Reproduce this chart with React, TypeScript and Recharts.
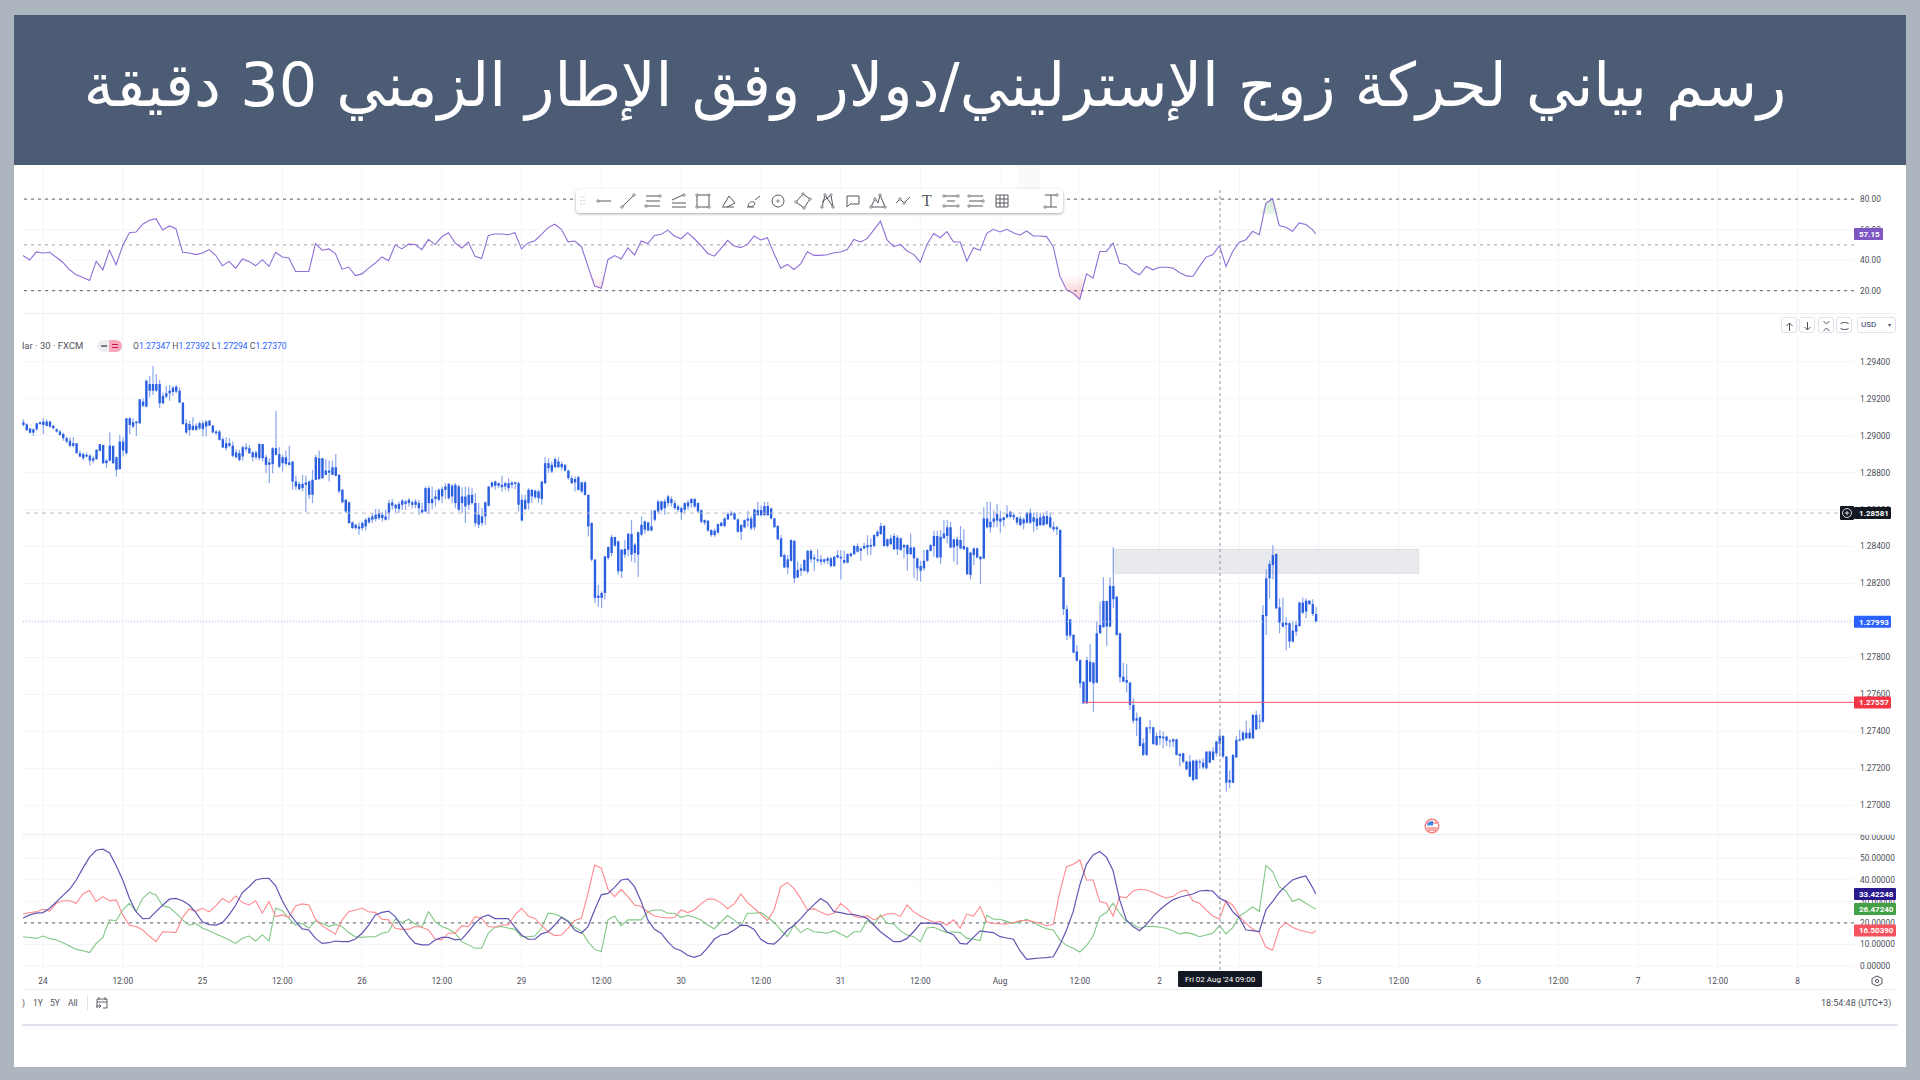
import React from 'react';
import {
  Area,
  Bar,
  CartesianGrid,
  ComposedChart,
  Line,
  ReferenceArea,
  ReferenceLine,
  XAxis,
  YAxis,
} from 'recharts';

// prices are kept as points above 1.27000 (1 point = 0.00001)
const bodyTop = [
  2072,2061,2039,2034,2067,2072,2076,2076,2076,2053, 2034,2022,2009,1986,1972,1959,1959,1905,1900,1896,
  1892,1878,1923,1954,1950,1865,1945,1945,1883,1968, 1968,2094,2094,2072,2076,2197,2184,2297,2279,2279,
  2279,2279,2215,2229,2243,2260,2265,2243,2179,2067, 2063,2053,2053,2067,2067,2076,2081,2054,2022,2022,
  1981,1959,1959,1945,1909,1905,1937,1937,1932,1909, 1909,1955,1954,1883,1855,1932,1932,1900,1883,1883,
  1855,1860,1752,1739,1739,1747,1752,1761,1883,1878, 1878,1811,1811,1829,1829,1788,1707,1653,1639,1531,
  1518,1509,1527,1545,1554,1563,1572,1581,1572,1563, 1635,1639,1626,1631,1649,1644,1653,1639,1644,1635,
  1599,1716,1716,1657,1671,1707,1711,1725,1739,1729, 1734,1725,1671,1671,1680,1680,1635,1572,1563,1639,
  1725,1747,1752,1743,1734,1743,1743,1747,1747,1743, 1653,1653,1707,1707,1703,1698,1752,1851,1851,1842,
  1873,1860,1847,1842,1811,1770,1765,1775,1747,1747, 1680,1527,1329,1135,1149,1347,1397,1451,1451,1428,
  1383,1387,1469,1469,1410,1477,1518,1536,1531,1509, 1595,1644,1644,1644,1671,1657,1635,1617,1608,1635,
  1639,1657,1657,1635,1597,1543,1540,1489,1486,1522, 1529,1552,1576,1583,1579,1547,1516,1543,1552,1552,
  1601,1597,1597,1619,1619,1606,1552,1511,1444,1354, 1331,1435,1431,1273,1282,1327,1377,1377,1341,1331,
  1331,1331,1336,1336,1345,1354,1345,1327,1359,1363, 1403,1403,1390,1403,1408,1408,1462,1480,1511,1511,
  1439,1444,1457,1449,1444,1408,1408,1395,1395,1336, 1294,1323,1381,1408,1457,1457,1453,1471,1504,1504,
  1439,1439,1435,1403,1395,1367,1390,1390,1345,1552, 1552,1534,1552,1576,1552,1558,1576,1588,1570,1558,
  1552,1547,1583,1583,1558,1552,1558,1565,1565,1558, 1507,1504,1490,1234,1061,1006,922,832,786,669,
  786,777,772,931,976,1106,1106,1187,1187,1129, 931,696,678,664,543,471,476,336,422,422,
  422,375,375,372,372,350,357,357,278,282, 237,237,242,242,237,231,291,291,291,345,
  375,375,264,137,273,354,357,393,393,393, 489,489,458,1030,1228,1306,1354,1360,1071,988,
  988,985,945,976,1097,1097,1107,1107,1089,1035,
];
const bodyBottom = [
  2058,2030,2016,2016,2034,2063,2058,2053,2049,2040, 2022,2004,1986,1968,1945,1945,1905,1887,1878,1887,
  1865,1865,1873,1918,1851,1851,1865,1851,1815,1819, 1919,1905,2058,2049,2067,2067,2161,2157,2243,2243,
  2243,2175,2175,2211,2229,2236,2238,2179,2063,2017, 2031,2031,2031,2040,2035,2049,2054,2017,2013,1977,
  1936,1932,1945,1891,1883,1869,1887,1927,1905,1883, 1883,1878,1878,1842,1842,1847,1896,1833,1851,1847,
  1842,1752,1725,1711,1716,1734,1680,1680,1761,1765, 1770,1788,1800,1788,1783,1698,1639,1590,1527,1500,
  1500,1496,1500,1509,1531,1545,1549,1554,1554,1545, 1581,1621,1608,1603,1626,1631,1635,1626,1626,1608,
  1585,1590,1635,1635,1657,1653,1671,1707,1662,1671, 1635,1599,1635,1617,1626,1635,1527,1518,1527,1563,
  1621,1725,1729,1729,1721,1725,1716,1734,1739,1626, 1541,1603,1635,1671,1667,1662,1657,1743,1824,1806,
  1829,1829,1829,1811,1770,1743,1747,1707,1698,1680, 1509,1329,1122,1122,1122,1149,1338,1365,1405,1266,
  1266,1356,1383,1356,1365,1356,1464,1491,1487,1487, 1545,1590,1599,1608,1635,1635,1608,1599,1585,1599,
  1617,1635,1617,1590,1534,1529,1486,1462,1462,1475, 1511,1511,1547,1570,1547,1480,1480,1504,1540,1498,
  1504,1570,1570,1570,1570,1552,1504,1439,1345,1287, 1287,1323,1228,1233,1269,1269,1264,1331,1331,1323,
  1318,1318,1323,1294,1294,1341,1336,1313,1313,1349, 1359,1372,1377,1390,1395,1399,1403,1457,1468,1403,
  1403,1413,1385,1385,1381,1395,1359,1359,1336,1282, 1269,1282,1323,1377,1403,1341,1341,1444,1457,1395,
  1395,1403,1390,1385,1251,1246,1354,1341,1331,1336, 1504,1504,1534,1540,1534,1543,1558,1561,1558,1529,
  1516,1525,1529,1529,1534,1511,1516,1516,1522,1504, 1493,1493,1234,1061,918,918,826,783,660,552,
  552,669,660,664,931,963,967,967,1115,922, 693,669,664,543,458,458,321,273,273,417,
  332,327,363,363,350,345,345,273,267,237, 195,155,137,141,231,206,200,231,246,282,
  332,264,123,123,123,260,350,354,363,363, 363,411,453,453,1024,1228,1300,1066,988,967,
  976,886,886,940,970,1042,1048,1089,1035,994,
];
const wickHigh = [
  2088,2067,2039,2039,2067,2076,2094,2088,2081,2058, 2040,2031,2017,1995,1991,1991,1959,1919,1909,1909,
  1901,1891,1927,1955,1950,1873,2017,1945,1887,2004, 1991,2094,2099,2094,2080,2197,2202,2301,2323,2377,
  2333,2301,2233,2269,2274,2269,2274,2261,2179,2088, 2081,2099,2067,2076,2081,2085,2085,2058,2031,2031,
  1991,1991,1986,1968,1927,1923,1945,1959,1950,1914, 1919,1959,1955,1896,1878,1937,2135,1937,1896,1919,
  1945,1860,1783,1752,1788,1783,1757,1815,1896,1919, 1878,1873,1865,1865,1901,1793,1711,1657,1644,1536,
  1523,1531,1536,1554,1563,1577,1603,1603,1585,1599, 1653,1657,1631,1644,1657,1653,1662,1649,1657,1653,
  1635,1725,1729,1725,1707,1716,1725,1743,1743,1739, 1743,1734,1721,1725,1721,1716,1689,1635,1608,1644,
  1725,1752,1757,1747,1783,1752,1770,1752,1752,1752, 1680,1680,1716,1711,1707,1707,1752,1883,1878,1860,
  1883,1883,1860,1847,1815,1783,1779,1783,1752,1752, 1680,1531,1333,1194,1158,1347,1401,1464,1455,1433,
  1387,1437,1473,1545,1419,1482,1563,1541,1531,1599, 1599,1653,1649,1657,1680,1671,1649,1626,1617,1639,
  1653,1662,1662,1639,1601,1547,1543,1493,1498,1525, 1534,1558,1588,1594,1588,1552,1522,1547,1594,1565,
  1601,1642,1624,1642,1642,1610,1556,1516,1462,1363, 1354,1439,1435,1318,1305,1331,1381,1385,1359,1385,
  1354,1336,1345,1345,1349,1381,1381,1377,1363,1367, 1408,1417,1395,1421,1462,1444,1466,1489,1529,1516,
  1444,1462,1471,1462,1449,1413,1413,1471,1399,1341, 1323,1381,1385,1413,1486,1486,1489,1543,1543,1534,
  1444,1453,1511,1493,1399,1372,1395,1395,1349,1612, 1642,1642,1597,1630,1594,1561,1624,1594,1583,1561,
  1565,1558,1588,1606,1583,1583,1583,1576,1594,1583, 1534,1511,1493,1234,1084,1006,927,868,790,669,
  804,873,777,994,1102,1234,1106,1234,1396,1133, 934,772,765,669,579,502,480,363,426,462,
  426,393,408,399,375,357,363,361,285,285, 242,273,246,249,249,255,291,296,314,350,
  399,381,267,188,278,375,408,404,458,417, 494,512,494,1084,1277,1324,1408,1363,1120,1125,
  1017,994,999,999,1102,1125,1120,1111,1115,1075,
];
const wickLow = [
  2049,2025,2012,1998,2027,2058,2009,2049,2040,2034, 2016,1999,1973,1959,1937,1937,1905,1883,1865,1883,
  1838,1851,1869,1914,1847,1824,1860,1847,1779,1815, 1887,1896,2009,2040,1999,2063,2153,2153,2207,2220,
  2238,2148,2171,2202,2189,2215,2229,2175,2058,2009, 1999,2027,2027,2031,1995,1995,2053,2013,2004,1973,
  1932,1919,1937,1883,1878,1860,1865,1914,1901,1860, 1869,1865,1860,1797,1743,1797,1892,1824,1806,1837,
  1837,1707,1707,1703,1698,1585,1657,1635,1761,1761, 1765,1788,1752,1788,1779,1689,1635,1581,1523,1495,
  1491,1464,1487,1487,1523,1527,1536,1545,1536,1541, 1545,1599,1585,1581,1599,1599,1617,1608,1608,1572,
  1577,1585,1577,1603,1617,1644,1635,1657,1653,1635, 1608,1590,1581,1527,1599,1626,1509,1500,1513,1518,
  1617,1716,1707,1716,1698,1707,1698,1716,1711,1590, 1536,1595,1599,1635,1657,1635,1626,1739,1797,1797,
  1824,1824,1811,1806,1761,1739,1698,1703,1689,1675, 1455,1320,1095,1073,1068,1113,1329,1347,1397,1248,
  1230,1338,1347,1320,1311,1235,1455,1469,1482,1482, 1536,1577,1590,1572,1617,1617,1599,1585,1545,1581,
  1599,1608,1608,1581,1525,1516,1480,1453,1453,1471, 1507,1504,1543,1565,1543,1475,1435,1498,1507,1489,
  1489,1565,1561,1565,1565,1547,1504,1435,1345,1282, 1251,1318,1201,1228,1240,1264,1251,1313,1269,1313,
  1300,1305,1305,1287,1291,1336,1222,1305,1309,1341, 1354,1367,1323,1385,1354,1354,1395,1449,1462,1399,
  1395,1408,1381,1354,1377,1336,1269,1354,1228,1215, 1210,1269,1318,1372,1345,1336,1305,1444,1417,1390,
  1318,1300,1385,1381,1246,1222,1300,1336,1197,1331, 1498,1475,1504,1504,1475,1507,1552,1552,1543,1516,
  1511,1493,1525,1522,1480,1489,1511,1511,1516,1498, 1480,1462,1234,1030,895,904,823,777,633,548,
  548,664,507,660,927,963,862,963,1066,918, 664,664,610,516,444,375,318,267,267,390,
  327,321,327,309,321,314,314,269,210,228, 188,155,128,141,200,195,195,228,242,264,
  264,255,74,92,119,255,345,350,357,357, 357,408,411,447,922,1120,1223,1061,931,963,
  837,850,880,916,967,1035,1012,1084,1024,988,
];

// indicators are read every second bar, the last value sits on the last bar
const rsiValues = [
  43,40.1,45.4,44.7,45.2,41.9,38.5,33.7,30.4,28.6, 26.6,39.2,33.7,46.5,37,49.6,58,58.4,63.5,66.1,
  67.2,59.7,62.4,60.6,45.2,44.7,43.6,44.7,46.9,43, 36.3,39.2,34.6,40.8,39.2,36.3,40.3,35.9,45.2,42.1,
  41.4,32.6,32.6,32.6,50.9,46.5,47.4,44.3,34.1,35.5, 29.9,31,34.8,38.1,42.1,39.7,50,47.4,50.5,50.2,
  46.9,53.6,50.2,55.3,58,51.3,48,51.8,42.5,41, 56.2,57.1,57.1,56.6,58,47.4,51.3,52.7,56.9,61.3,
  63.5,60.2,52,52.5,49.1,35.9,23.1,21.6,40.3,43, 40.8,48,43.4,52.5,50.9,56.2,56.9,59.7,55.8,54,
  58,54,49.6,44.4,42.6,47.5,53,49.2,48.2,50.3, 55.8,53.2,54.7,44.2,34.7,37.2,33.9,37.6,45.5,43.1,
  43.1,43.5,44.8,45.3,47,53.6,51.9,54.1,59.8,65.5, 53.2,48.8,50.3,46,43.8,38.7,50.3,57.4,54.7,58.7,
  51.9,51.9,39.4,48.1,46.4,57.6,60.2,58.5,60.2,58, 56.3,59.1,55.8,55.8,55.4,48.8,29.5,20.5,18.3,14.3,
  31,28.2,45.7,45.7,51.2,38,37,32.6,30.4,35.9, 33.7,35.4,35.4,34.8,31.9,29.7,29.3,35.9,42,43.5,
  49.5,35.9,45.7,51.7,53.4,58.9,56.7,77.2,80.3,62.7, 61.6,58.9,64.4,63.3,60,57.15,
];
const adxValues = [
  22.3,23.7,24.5,24.8,26.8,29.7,32.8,35.6,39.9,45.4, 50.5,53.7,54.2,52.6,46.6,39.9,31.4,25.2,22,22.1,
  25.2,28.2,31,31.4,30.3,28.3,24.8,20.4,19.2,19, 20.1,23.7,28.3,34.1,36.8,39.9,40.6,40.7,37.2,30.3,
  24.8,20.6,17.2,16.7,12.8,10.5,10.8,11.6,11.3,11.3, 12.5,15.2,19,23.7,24.9,25.5,22.9,18.3,13.9,10.5,
  9.8,9.8,12.1,13.3,13.3,12.1,12.4,15.9,19.8,22.6, 23.7,22,22,22,18,14.4,12.4,12.4,14.9,15.9,
  19,22.6,20.6,16.7,15.2,18.3,26,33,33.7,36.5, 39.9,40.4,36.8,29.9,21.4,17,15.2,11.3,8.2,7.1,
  5,4,5.1,8.4,12.4,14.4,14.9,16.7,19,18.7, 17,12.4,10.5,10.2,12.9,16.7,18.9,22,25.5,28.5,
  31.3,29.4,25.2,24.8,24.1,23.8,23.2,22.1,19,15.9, 13.6,11.3,11.3,12.8,15.9,19.7,20,19.8,19.4,15.9,
  14.4,10.5,10.2,13.3,16.3,15.8,15.5,13.6,13,12.4, 7.1,3.1,3.4,3.7,3.9,4.3,9.8,16.7,25.2,37.6,
  47.2,51.5,53.1,50.5,44.3,30.7,21.4,18.3,16.4,19.2, 22.9,26,28.5,30.7,31.9,32.7,33.4,34.8,35.1,34.8,
  31.4,30,25.2,22.4,16.7,16.4,16,26,29.9,34.1, 37.2,39.9,41,41.8,36.5,33.42,
];
const redValues = [
  24.1,24.8,25.1,26.3,25.5,29.1,30.3,30.3,29.1,33.4, 35,29.9,32.2,30.3,30.7,23.7,18.9,18.3,16.7,13.9,
  11.3,15.9,15.8,15.5,22.6,26.5,25.5,26.8,25.1,27.9, 31.4,29.4,32.5,29.4,28.3,30.3,24.5,29.9,22.9,23.7,
  22.6,27.9,28.8,28.3,21.7,18.6,16.7,14.9,21.4,25.2, 26,26.9,25.2,24.9,21.7,21.4,17.5,17,17,18.3,
  18,16.7,12.5,12.1,15.2,15.2,18.6,18.3,22.9,22.1, 18.3,18,19,19,23.7,26.8,23.2,22.1,19,15.9,
  14.1,14.4,17.5,21.1,22.1,33.7,46.9,45.4,35.6,32.2, 35.6,32.2,28.3,27.6,25.2,23.2,22.6,22.3,22.6,26,
  24.8,26,28.8,31.1,31,29.4,26.6,28.8,33.4,29.4, 26.8,24.1,21.1,26,36.8,38.7,36,31.4,26,26.6,
  25,23.7,24.5,29.1,26.6,23.2,22.4,23.4,21.4,22.9, 24.1,24.5,22.9,28.3,25.2,23.2,21.7,20.3,20.6,19,
  21.4,17.5,24.1,23.2,27.6,20.4,19.8,19.5,19.5,20.1, 21.1,21.1,20.6,19.8,18.7,19.2,34.5,46.1,47.2,49.2,
  39.9,39.9,29.9,29.1,23.2,32.2,31.7,34.8,35.6,35.3, 34.2,32.7,31.6,32.2,34.5,35.3,30.3,29.1,26,23.2,
  21.8,30.3,28.3,23.2,19.8,17.2,15.5,8.7,7.4,17.2, 20.1,18,16.7,15.9,15.2,16.5,
];
const greenValues = [
  13.6,13.2,12.8,13.9,12.8,12.1,10.8,9.3,7.7,7.1, 6.2,10.5,13.3,21.4,21,26,29.1,25.2,31.4,34.2,
  33,27.9,27.2,24.5,21.4,18.9,19.7,17.5,16.4,14.9, 13.6,12.1,10.5,12.9,13.9,11.6,14.4,11.6,26.8,25.7,
  22.1,19,19.8,17.5,20.9,19.8,18.3,19.3,18.3,15.5, 13.6,13.3,13.6,13.6,15.2,15.9,21.7,20.1,21.7,19.5,
  18,25.2,20.6,18.3,17.2,15.2,11.3,9.8,8.2,8.2, 15.2,18,18.3,17.6,17,13.6,13.6,13.9,17.5,24.5,
  24.1,22.9,21,18,16.3,11.3,7.7,6.7,21.4,23.2, 18.6,21.4,21.4,21.4,25.2,26,26,24.5,24.5,22.6,
  23.4,22.6,21.4,19,17.3,20.4,23.4,21.4,18.6,24.5, 24.5,24.9,22.6,20.3,16.7,13.6,19,15.5,17.5,15.9,
  15.6,15.2,16.4,14.9,13.3,15.9,15.9,21.1,19,23.7, 19.8,19.5,16.3,14.4,13.6,11.3,17.6,18,16.7,15.5,
  15.8,15.5,12.8,12.4,11.8,23.5,21.7,21.7,20.7,19.8, 20.6,21.7,20.3,18.6,17.3,16.7,12.1,9.6,8.2,6.5,
  9.4,13.9,22.9,24.8,29.1,24.5,20.6,19.2,17.5,18.3, 18.4,18,17.5,16.4,14.9,15.5,14.9,13.6,14.4,15.2,
  18.7,14.9,17.8,23.2,25.1,27.4,25.4,46.6,43.8,36.8, 34.8,29.9,31.1,29.1,27.2,26.47,
];

// the 12:00 of Aug 2 lies under the crosshair date tag in the picture, so it stays blank
const timeLabels = ['24','12:00','25','12:00','26','12:00','29','12:00','30','12:00','31','12:00','Aug','12:00','2','','5','12:00','6','12:00','7','12:00','8'];
const firstLabelBar = 6;
const barsPerLabel = 24;
const timeTicks = timeLabels.map((_, n) => firstLabelBar + n * barsPerLabel);

const priceTicks = [1.27, 1.272, 1.274, 1.276, 1.278, 1.28, 1.282, 1.284, 1.286, 1.288, 1.29, 1.292, 1.294];
const rsiTicks = [20, 40, 60, 80];
const dmiTicks = [0, 10, 20, 30, 40, 50, 60];

const rsiTags = [{ value: 57.15, text: '57.15', fill: '#7e57c2', width: 29 }];
const priceTags = [
  { value: 1.28581, text: '1.28581', fill: '#131722', width: 37 },
  { value: 1.27993, text: '1.27993', fill: '#2962ff', width: 37 },
  { value: 1.27557, text: '1.27557', fill: '#f23645', width: 37 },
];
const dmiTags = [
  { value: 33.42248, text: '33.42248', fill: '#2a1a8e', width: 42 },
  { value: 26.4724, text: '26.47240', fill: '#43a047', width: 42 },
  { value: 16.5039, text: '16.50390', fill: '#f7525f', width: 42 },
];

const BASE = 1.27;
const toPrice = (pts: number) => BASE + pts / 100000;

const candleRows = bodyTop.map((top, i) => ({
  t: i,
  range: [toPrice(wickLow[i]), toPrice(wickHigh[i])],
  top: toPrice(top),
  bottom: toPrice(bodyBottom[i]),
  high: toPrice(wickHigh[i]),
  low: toPrice(wickLow[i]),
}));

const lastBar = bodyTop.length - 1;
const indicatorBar = (k: number) => Math.min(k * 2, lastBar);

const rsiRows = rsiValues.map((v, k) => {
  const near = (test: (x: number) => boolean) =>
    test(v) || test(rsiValues[k - 1] ?? 50) || test(rsiValues[k + 1] ?? 50);
  return {
    t: indicatorBar(k),
    rsi: v,
    oversold: near((x) => x < 30) ? [Math.min(v, 30), 30] : null,
    overbought: near((x) => x > 70) ? [70, Math.max(v, 70)] : null,
  };
});

const dmiRows = adxValues.map((v, k) => ({
  t: indicatorBar(k),
  adx: v,
  red: redValues[k],
  green: greenValues[k],
}));

const X_DOMAIN: [number, number] = [-0.32, 550.97];
const RSI_DOMAIN: [number, number] = [5.4, 102.3];
const PRICE_DOMAIN: [number, number] = [1.26845, 1.29658];
const DMI_DOMAIN: [number, number] = [-1.86, 61.25];
const CHART_WIDTH = 1884;
const AXIS_WIDTH = 52;
const FONT = 'Roboto, sans-serif';
const GRID = '#f4f5f8';
const DARK_DASH = '#7b7e87';
const CROSS = '#a3a5ab';
const CROSS_BAR = 360.2;
const tickStyle = { fontSize: 8.3, fontFamily: FONT, fill: '#4a4d57' };

const Candle = (props: any) => {
  const { x, y, width, height, payload } = props;
  const cx = x + width / 2;
  const perPrice = height / (payload.high - payload.low);
  const top = y + (payload.high - payload.top) * perPrice;
  const h = Math.max((payload.top - payload.bottom) * perPrice, 1);
  return (
    <g>
      <line x1={cx} x2={cx} y1={y} y2={y + height} stroke="#8aa6ec" strokeWidth={1.2} />
      <rect x={cx - 1.2} y={top} width={2.4} height={h} fill="#2a5fe0" />
    </g>
  );
};

// value tag on the axis, hangs on the reference line of its own value
const valueTag = (text: string, fill: string, width: number) => (p: any) => {
  const right = p.viewBox.x + p.viewBox.width;
  const y = p.viewBox.y;
  return (
    <g>
      <rect x={right} y={y - 6} width={width} height={12} rx={1} fill={fill} />
      <text x={right + 5} y={y + 3} fontSize={8} fontFamily={FONT} fontWeight={700} fill="#fff">
        {text}
      </text>
    </g>
  );
};

const dateTag = (p: any) => {
  const cx = p.viewBox.x;
  const bottom = p.viewBox.y + p.viewBox.height;
  return (
    <g>
      <rect x={cx - 42} y={bottom + 1} width={84} height={16} rx={1} fill="#131722" />
      <text x={cx} y={bottom + 12} textAnchor="middle" fontSize={8} fontFamily={FONT} fill="#fff">
        {"Fri 02 Aug '24   09:00"}
      </text>
    </g>
  );
};

const chartBox = (top: number): React.CSSProperties => ({ position: 'absolute', left: 22, top });
const noMargin = { top: 0, right: 0, bottom: 0, left: 0 };

// same scales as the pane below it, only so the tags sit above that pane's axis labels
const TagLayer = ({ top, height, domain, tags, axisHeight = 0 }: any) => (
  <div style={chartBox(top)}>
    <ComposedChart width={CHART_WIDTH} height={height} data={[{ t: 0 }]} margin={noMargin}>
      <XAxis dataKey="t" type="number" domain={X_DOMAIN} height={axisHeight} tick={false} axisLine={false} tickLine={false} hide={axisHeight === 0} />
      <YAxis orientation="right" width={AXIS_WIDTH} domain={domain} allowDataOverflow tick={false} axisLine={false} tickLine={false} />
      {tags.map((tag: any) => (
        <ReferenceLine key={tag.text} y={tag.value} stroke="none" label={valueTag(tag.text, tag.fill, tag.width)} />
      ))}
    </ComposedChart>
  </div>
);

const RsiPane = () => (
  <div style={chartBox(165)}>
    <ComposedChart width={CHART_WIDTH} height={148} data={rsiRows} margin={noMargin}>
      <defs>
        <linearGradient id="rsiLow" gradientUnits="userSpaceOnUse" x1="0" x2="0" y1="110" y2="137">
          <stop offset="0" stopColor="#f23645" stopOpacity={0} />
          <stop offset="1" stopColor="#f23645" stopOpacity={0.55} />
        </linearGradient>
        <linearGradient id="rsiHigh" gradientUnits="userSpaceOnUse" x1="0" x2="0" y1="65" y2="34">
          <stop offset="0" stopColor="#4caf50" stopOpacity={0} />
          <stop offset="1" stopColor="#4caf50" stopOpacity={0.4} />
        </linearGradient>
      </defs>
      <CartesianGrid stroke={GRID} verticalValues={timeTicks} horizontalValues={rsiTicks} />
      <XAxis dataKey="t" type="number" domain={X_DOMAIN} ticks={timeTicks} allowDataOverflow hide />
      <YAxis
        orientation="right"
        width={AXIS_WIDTH}
        domain={RSI_DOMAIN}
        ticks={rsiTicks}
        interval={0}
        allowDataOverflow
        axisLine={false}
        tickLine={false}
        tickMargin={0}
        tick={tickStyle}
        tickFormatter={(v: number) => v.toFixed(2)}
      />
      <ReferenceLine y={80} stroke={DARK_DASH} strokeDasharray="3 4" strokeWidth={1.2} />
      <ReferenceLine y={50} stroke="#b2b4ba" strokeDasharray="3 4" strokeWidth={1.2} />
      <ReferenceLine y={20} stroke={DARK_DASH} strokeDasharray="3 4" strokeWidth={1.2} />
      <Area dataKey="oversold" stroke="none" fill="url(#rsiLow)" isAnimationActive={false} dot={false} activeDot={false} />
      <Area dataKey="overbought" stroke="none" fill="url(#rsiHigh)" isAnimationActive={false} dot={false} activeDot={false} />
      <Line dataKey="rsi" stroke="#8f6fd6" strokeWidth={1.1} dot={false} activeDot={false} isAnimationActive={false} />
      <ReferenceLine
        segment={[{ x: CROSS_BAR, y: 85.9 }, { x: CROSS_BAR, y: 5.4 }]}
        stroke={CROSS}
        strokeDasharray="3 3"
        strokeWidth={1.2}
      />
    </ComposedChart>
  </div>
);

const PricePane = () => (
  <div style={chartBox(314)}>
    <ComposedChart width={CHART_WIDTH} height={520} data={candleRows} margin={noMargin}>
      <CartesianGrid stroke={GRID} verticalValues={timeTicks} horizontalValues={priceTicks} />
      <XAxis dataKey="t" type="number" domain={X_DOMAIN} ticks={timeTicks} allowDataOverflow hide />
      <YAxis
        orientation="right"
        width={AXIS_WIDTH}
        domain={PRICE_DOMAIN}
        ticks={priceTicks}
        interval={0}
        allowDataOverflow
        axisLine={false}
        tickLine={false}
        tickMargin={0}
        tick={tickStyle}
        tickFormatter={(v: number) => v.toFixed(5)}
      />
      <ReferenceArea x1={328} x2={420} y1={1.28255} y2={1.28385} fill="#e9eaed" fillOpacity={1} stroke="#dfe0e3" />
      <ReferenceLine y={1.28581} stroke="#b9bbc1" strokeDasharray="4 4" />
      <ReferenceLine y={1.27993} stroke="#aac4f5" strokeDasharray="1 2" />
      <ReferenceLine
        segment={[{ x: 319, y: 1.27557 }, { x: 550.97, y: 1.27557 }]}
        stroke="#f7525f"
        strokeOpacity={0.8}
        strokeWidth={1.4}
      />
      <Bar dataKey="range" barSize={2} shape={<Candle />} isAnimationActive={false} />
      <ReferenceLine x={CROSS_BAR} stroke={CROSS} strokeDasharray="3 3" strokeWidth={1.2} />
    </ComposedChart>
  </div>
);

const DmiPane = () => (
  <div style={chartBox(834)}>
    <ComposedChart width={CHART_WIDTH} height={155} data={dmiRows} margin={noMargin}>
      <CartesianGrid stroke={GRID} verticalValues={timeTicks} horizontalValues={dmiTicks} />
      <XAxis
        dataKey="t"
        type="number"
        height={19}
        domain={X_DOMAIN}
        ticks={timeTicks}
        interval={0}
        allowDataOverflow
        axisLine={false}
        tickLine={false}
        tick={tickStyle}
        tickFormatter={(v: number) => timeLabels[(v - firstLabelBar) / barsPerLabel] ?? ''}
      />
      <YAxis
        orientation="right"
        width={AXIS_WIDTH}
        domain={DMI_DOMAIN}
        ticks={dmiTicks}
        interval={0}
        allowDataOverflow
        axisLine={false}
        tickLine={false}
        tickMargin={0}
        tick={tickStyle}
        tickFormatter={(v: number) => v.toFixed(5)}
      />
      <ReferenceLine y={20} stroke={DARK_DASH} strokeDasharray="3 4" strokeWidth={1.2} />
      <Line dataKey="green" stroke="#81c784" strokeWidth={1.1} dot={false} activeDot={false} isAnimationActive={false} />
      <Line dataKey="red" stroke="#ff8a8f" strokeWidth={1.1} dot={false} activeDot={false} isAnimationActive={false} />
      <Line dataKey="adx" stroke="#6256b4" strokeWidth={1.2} dot={false} activeDot={false} isAnimationActive={false} />
      <ReferenceLine x={CROSS_BAR} stroke={CROSS} strokeDasharray="3 3" strokeWidth={1.2} label={dateTag} />
    </ComposedChart>
  </div>
);

// drawing toolbar glyphs, each in a 16x16 box
const toolGlyphs = [
  { at: 604, d: 'M3 8H15', dots: [[2, 8]] },
  { at: 628, d: 'M3 13L13 3', dots: [[2, 14], [14, 2]] },
  { at: 653, d: 'M1 3H15M1 8H15M1 13H15', dots: [[15, 3], [1, 13]] },
  { at: 679, d: 'M1 7L12 2M1 10H15M1 14H15', dots: [[13, 2]] },
  { at: 703, d: 'M2 2H14V14H2Z', dots: [[2, 2], [14, 2], [2, 14], [14, 14]] },
  { at: 728, d: 'M2 14H14M3 13L9 3L15 10L7 14', dots: [] },
  { at: 753, d: 'M2 14H9M3 13C4 9 7 8 9 9L10 11C8 14 5 14 3 13ZM10 7L15 3', dots: [] },
  { at: 778, d: 'M14 8A6 6 0 1 1 2 8A6 6 0 1 1 14 8Z', dots: [[8, 8]] },
  { at: 803, d: 'M8 1L15 6L9 15L1 9Z', dots: [[8, 1], [15, 6], [9, 15], [1, 9]] },
  { at: 828, d: 'M2 14L5 2L13 14L11 2L2 9', dots: [[5, 2], [11, 2], [2, 14], [13, 14]] },
  { at: 853, d: 'M2 14V3H14V11H5L2 14', dots: [] },
  { at: 878, d: 'M1 14L5 6L8 10L10 2L13 9L15 14M1 14H15', dots: [[5, 6], [10, 2], [1, 14], [15, 14]] },
  { at: 903, d: 'M1 10L5 6L9 10L15 4', dots: [[5, 6], [9, 10]] },
  { at: 951, d: 'M1 3H15M1 13H15M4 8H12', dots: [[1, 3], [15, 3], [1, 13], [15, 13]] },
  { at: 976, d: 'M1 3H15M1 13H15M1 8H15', dots: [[1, 3], [15, 8], [1, 13]] },
  { at: 1002, d: 'M2 2H14V14H2ZM2 6H14M2 10H14M6 2V14M10 2V14', dots: [] },
  { at: 1051, d: 'M2 2H14M2 14H14M8 2V14', dots: [[2, 14], [14, 2]] },
];

const Toolbar = () => (
  <div
    style={{
      position: 'absolute',
      left: 576,
      top: 189,
      width: 487,
      height: 24,
      background: '#fff',
      borderRadius: 4,
      boxShadow: '0 1px 3px rgba(0,0,0,0.35)',
    }}
  >
    <svg width={487} height={24} style={{ position: 'absolute', left: 0, top: 0 }}>
      {[0, 1, 2].map((r) =>
        [0, 1].map((c) => (
          <circle key={`${r}-${c}`} cx={5 + c * 3} cy={8 + r * 3.5} r={0.8} fill="#c9cbd1" />
        )),
      )}
      {toolGlyphs.map((g) => (
        <g key={g.at} transform={`translate(${g.at - 576 - 8},4)`}>
          <path d={g.d} fill="none" stroke="#55585f" strokeWidth={1} />
          {g.dots.map(([cx, cy], i) => (
            <circle key={i} cx={cx} cy={cy} r={1.2} fill="#fff" stroke="#55585f" strokeWidth={0.7} />
          ))}
        </g>
      ))}
      <text x={351} y={17} textAnchor="middle" fontSize={16} fontFamily="Liberation Serif, serif" fill="#55585f">
        T
      </text>
    </svg>
  </div>
);

const scaleButtons = [
  { at: 1789, d: 'M6 11V3M3 6L6 3L9 6' },
  { at: 1807, d: 'M6 2V10M3 7L6 10L9 7' },
  { at: 1825.5, d: 'M3 1L6 4L9 1M3 11L6 8L9 11' },
  { at: 1843.5, d: 'M2 4C2 2 10 2 10 4M2 8C2 10 10 10 10 8' },
];

const FreeText = ({ x, y, size = 9, color = '#50535e', children, ...rest }: any) => (
  <div
    style={{
      position: 'absolute',
      left: x,
      top: y,
      fontSize: size,
      lineHeight: '12px',
      color,
      fontFamily: FONT,
      whiteSpace: 'nowrap',
      ...rest,
    }}
  >
    {children}
  </div>
);

const Hairline = ({ y, h = 1, color = '#eceef3' }: any) => (
  <div style={{ position: 'absolute', left: 22, top: y, width: 1876, height: h, background: color }} />
);

const App = () => (
  <div style={{ position: 'absolute', left: 0, top: 0, width: 1920, height: 1080, background: '#adb5bf', overflow: 'hidden' }}>
    <div style={{ position: 'absolute', left: 14, top: 15, width: 1892, height: 150, background: '#4d5c75' }} />
    <div
      dir="rtl"
      style={{
        position: 'absolute',
        left: 14,
        top: 40,
        width: 1842,
        textAlign: 'center',
        color: '#fff',
        fontSize: 60.5,
        lineHeight: '90px',
        fontFamily: '"DejaVu Sans", sans-serif',
        whiteSpace: 'nowrap',
      }}
    >
      رسم بياني لحركة زوج الإسترليني/دولار وفق الإطار الزمني 30 دقيقة
    </div>
    <div style={{ position: 'absolute', left: 14, top: 165, width: 1892, height: 902, background: '#fff' }} />

    <RsiPane />
    <PricePane />
    <DmiPane />
    <TagLayer top={165} height={148} domain={RSI_DOMAIN} tags={rsiTags} />
    <TagLayer top={314} height={520} domain={PRICE_DOMAIN} tags={priceTags} />
    <TagLayer top={834} height={155} domain={DMI_DOMAIN} tags={dmiTags} axisHeight={19} />

    <Hairline y={313} />
    <Hairline y={834} />
    <Hairline y={989} />
    <Hairline y={1024} h={2} color="#e0e3eb" />

    <div style={{ position: 'absolute', left: 1017, top: 165, width: 23, height: 30, background: '#fafafa' }} />
    <Toolbar />

    <FreeText x={22} y={340} size={9.5}>lar · 30 · FXCM</FreeText>
    <div style={{ position: 'absolute', left: 97, top: 340, width: 25, height: 12, borderRadius: 6, background: '#eceef1', overflow: 'hidden' }}>
      <div style={{ position: 'absolute', left: 12, top: 0, width: 13, height: 12, background: '#f7a8bd' }} />
      <div style={{ position: 'absolute', left: 4, top: 5, width: 6, height: 2, background: '#787b86' }} />
      <div style={{ position: 'absolute', left: 15, top: 4, width: 6, height: 1, background: '#c2185b' }} />
      <div style={{ position: 'absolute', left: 15, top: 7, width: 6, height: 1, background: '#c2185b' }} />
    </div>
    <FreeText x={133} y={340} size={8.6}>
      O<span style={{ color: '#2962ff' }}>1.27347</span> H<span style={{ color: '#2962ff' }}>1.27392</span> L
      <span style={{ color: '#2962ff' }}>1.27294</span> C<span style={{ color: '#2962ff' }}>1.27370</span>
    </FreeText>

    {scaleButtons.map((b) => (
      <svg key={b.at} width={16} height={16} style={{ position: 'absolute', left: b.at - 8, top: 317, border: '1px solid #e0e3eb', borderRadius: 3, boxSizing: 'border-box' }}>
        <path d={b.d} transform="translate(1.5,2)" fill="none" stroke="#50535e" strokeWidth={1} />
      </svg>
    ))}
    <div style={{ position: 'absolute', left: 1857, top: 317, width: 39, height: 16, border: '1px solid #e0e3eb', borderRadius: 3, boxSizing: 'border-box', fontSize: 8, lineHeight: '14px', fontFamily: FONT, color: '#2a3a6e', paddingLeft: 3 }}>
      USD
      <span style={{ position: 'absolute', right: 4, top: 0, color: '#50535e', fontSize: 6 }}>▾</span>
    </div>

    <svg width={14} height={14} style={{ position: 'absolute', left: 1840, top: 506 }}>
      <rect width={14} height={14} rx={1} fill="#131722" />
      <circle cx={7} cy={7} r={4.5} fill="none" stroke="#fff" strokeWidth={0.8} />
      <path d="M7 4.8V9.2M4.8 7H9.2" stroke="#fff" strokeWidth={0.8} />
    </svg>

    <svg width={16} height={16} style={{ position: 'absolute', left: 1424, top: 818 }}>
      <circle cx={8} cy={8} r={6.8} fill="#fff" stroke="#f77c80" strokeWidth={1.4} />
      <path d="M3 5H13M3 10H13M4 12H12" stroke="#ef5350" strokeWidth={1.1} />
      <path d="M3 7.6A5.2 5.2 0 0 1 9 3V7.6Z" fill="#3d8be8" />
    </svg>

    <svg width={14} height={14} style={{ position: 'absolute', left: 1870, top: 974 }}>
      <path d="M7 2L12 4.5V9.5L7 12L2 9.5V4.5Z" fill="none" stroke="#50535e" />
      <circle cx={7} cy={7} r={1.6} fill="none" stroke="#50535e" />
    </svg>

    <FreeText x={22} y={997} size={8.5}>)</FreeText>
    <FreeText x={33} y={997} size={8.5}>1Y</FreeText>
    <FreeText x={50} y={997} size={8.5}>5Y</FreeText>
    <FreeText x={68} y={997} size={8.5}>All</FreeText>
    <div style={{ position: 'absolute', left: 87, top: 995, width: 1, height: 15, background: '#e0e3eb' }} />
    <svg width={14} height={14} style={{ position: 'absolute', left: 95, top: 996 }}>
      <path d="M2 12V3H12V12H8M2 6H12M4 1V4M10 1V4M1 10H6M4 8L6 10L4 12" fill="none" stroke="#50535e" strokeWidth={0.9} />
    </svg>
    <FreeText x={1821} y={997} size={9}>18:54:48 (UTC+3)</FreeText>
  </div>
);

export default App;
